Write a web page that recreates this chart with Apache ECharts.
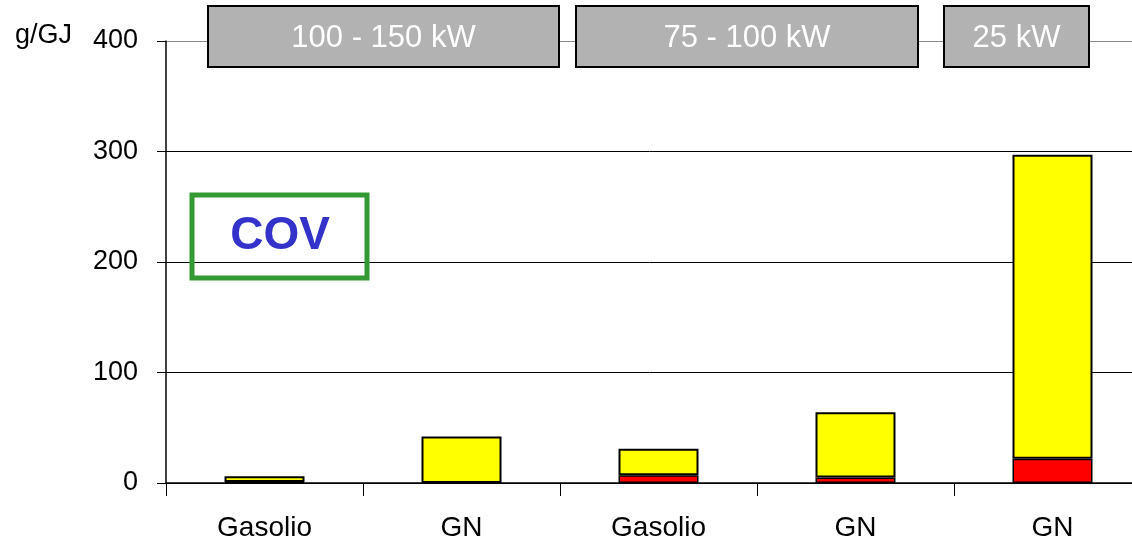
<!DOCTYPE html>
<html><head><meta charset="utf-8">
<script src="https://cdn.jsdelivr.net/npm/echarts@6/dist/echarts.min.js"></script>
<style>html,body{margin:0;padding:0;background:#fff}#c{width:1132px;height:542px}</style>
</head><body><div id="c"></div>
<script>
var categories = ['Gasolio', 'GN', 'Gasolio', 'GN', 'GN'];
var redValues = [1, 0, 7, 5, 22];
var yellowValues = [5, 42, 24, 59, 275];
var yTicks = [0, 100, 200, 300, 400];
var groupLabels = ['100 - 150 kW', '75 - 100 kW', '25 kW'];
var unitLabel = 'g/GJ';
var boxLabel = 'COV';

var chart = echarts.init(document.getElementById('c'));
var font = '"Liberation Sans", Arial, sans-serif';
function headerBox(x, w, text) {
  return {
    type: 'group', children: [
      {type: 'rect', shape: {x: x, y: 6, width: w, height: 61}, style: {fill: '#b2b2b2', stroke: '#000', lineWidth: 2}, z: 10},
      {type: 'text', x: x + w / 2, y: 38, style: {text: text, fill: '#fff', font: '31px ' + font, textAlign: 'center', textVerticalAlign: 'middle'}, z: 11}
    ]
  };
}
chart.setOption({
  animation: false,
  grid: {left: 166, top: 41, width: 985, bottom: 59, outerBoundsMode: 'none', containLabel: false},
  xAxis: {
    type: 'category', data: categories,
    axisLine: {lineStyle: {color: '#000', width: 1.5}},
    axisTick: {show: true, length: 13, lineStyle: {color: '#000'}},
    axisLabel: {color: '#000', fontSize: 28, fontFamily: font, margin: 31}
  },
  yAxis: {
    type: 'value', min: yTicks[0], max: yTicks[yTicks.length - 1], interval: 100,
    axisLine: {show: true, lineStyle: {color: '#000', width: 1.5}},
    axisTick: {show: true, length: 9, lineStyle: {color: '#000'}},
    axisLabel: {color: '#000', fontSize: 27, fontFamily: font, margin: 28},
    splitLine: {show: true, lineStyle: {color: ['#000', '#000', '#000', '#000', '#888'], width: 1}}
  },
  series: [
    {type: 'bar', stack: 's', data: redValues, barWidth: 80,
      itemStyle: {color: '#ff0000', borderColor: '#000', borderWidth: 1.5}},
    {type: 'bar', stack: 's', data: yellowValues, barWidth: 80,
      itemStyle: {color: '#ffff00', borderColor: '#000', borderWidth: 2}}
  ],
  graphic: [
    {type: 'text', left: 15, top: 22, style: {text: unitLabel, fill: '#000', font: '27px ' + font}},
    headerBox(208, 351, groupLabels[0]),
    headerBox(576, 342, groupLabels[1]),
    headerBox(944, 145, groupLabels[2]),
    {type: 'rect', shape: {x: 192, y: 195, width: 175, height: 83}, style: {fill: 'none', stroke: '#339933', lineWidth: 5}, z: 10},
    {type: 'text', x: 280, y: 236, style: {text: boxLabel, fill: '#3333cc', font: 'bold 46px ' + font, textAlign: 'center', textVerticalAlign: 'middle'}, z: 11}
  ]
});
</script></body></html>
